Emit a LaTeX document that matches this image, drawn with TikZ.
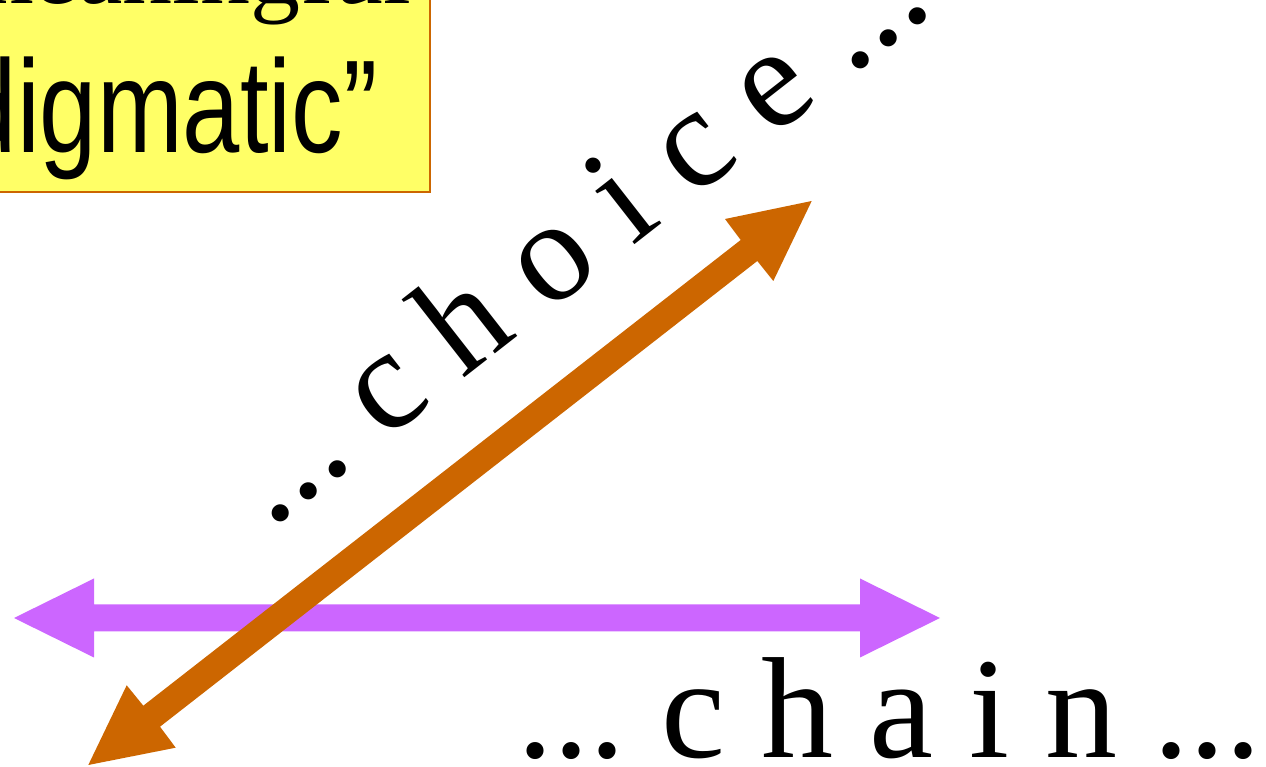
\documentclass[tikz,border=0pt]{standalone}
\usepackage{fontspec}
\setmainfont{Liberation Serif}
\newfontfamily\narrowfont[FakeStretch=0.78]{Liberation Sans}
\definecolor{boxyellow}{HTML}{FFFF66}
\definecolor{boxedge}{HTML}{CC6600}
\definecolor{arrorange}{HTML}{CC6600}
\definecolor{arrpurple}{HTML}{CC66FF}
\frenchspacing
\begin{document}
\begin{tikzpicture}[x=0.5pt,y=0.5pt,
  bigserif/.style={inner sep=0pt, font=\fontsize{72}{80}\selectfont},
  boxtext/.style={inner sep=0pt, font=\narrowfont\fontsize{66}{70}\selectfont},
  toptext/.style={inner sep=0pt, font=\fontsize{50}{56}\selectfont},
  purplearrow/.style={fill=arrpurple, draw=none},
  orangearrow/.style={fill=arrorange, draw=none}]
\useasboundingbox (0,0) rectangle (1266,767);
\clip (0,0) rectangle (1266,767);
% yellow box (cut off at top-left)
\draw[fill=boxyellow, draw=boxedge, line width=1pt] (-20,575) rectangle (430,800);
\node[toptext, anchor=base east] (top) at (412,763) {meaningful};
\node[boxtext, anchor=base east] (para) at (378,614) {paradigmatic”};
% purple double arrow
\coordinate (pl) at (14,149);
\coordinate (pr) at (940,149);
\fill[purplearrow] (pl) -- (94,188.5) -- (94,162.5) -- (860,162.5) -- (860,188.5) -- (pr)
  -- (860,109.5) -- (860,135.5) -- (94,135.5) -- (94,109.5) -- cycle;
% orange double arrow
\coordinate (ot) at (811.7,566);
\coordinate (ob) at (88.3,2);
\fill[orangearrow] (ot) -- (725,548) -- (740.7,527) -- (143.3,61.3) -- (126.7,81.7) -- (ob)
  -- (175.7,19.3) -- (160,40.3) -- (757.3,506) -- (773.3,486) -- cycle;
% labels
\node[bigserif, rotate=38, anchor=base] (choice) at (603,497) {... c h o i c e ...};
\node[bigserif, anchor=base west] (chain) at (517,10) {... c h a i n ...};
\end{tikzpicture}
\end{document}
